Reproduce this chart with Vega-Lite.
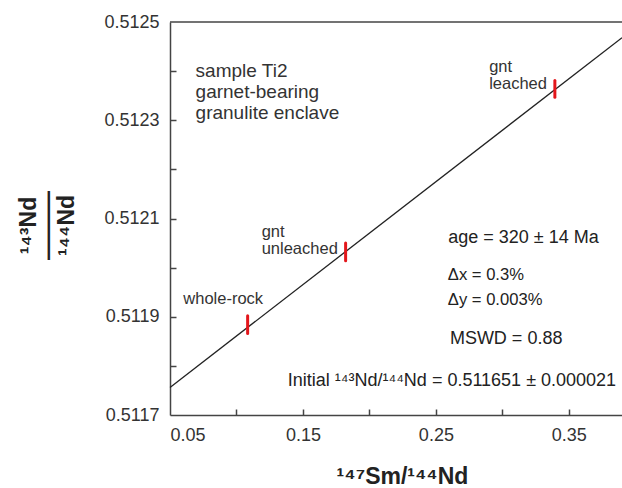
{
  "$schema": "https://vega.github.io/schema/vega-lite/v6.json",
  "width": 452,
  "height": 393,
  "autosize": {"type": "none"},
  "padding": {"left": 170, "top": 22, "right": 0, "bottom": 73},
  "background": "white",
  "resolve": {"axis": {"x": "independent", "y": "independent"}},
  "config": {
    "view": {"stroke": null},
    "font": "Liberation Sans",
    "axis": {
      "grid": false,
      "domainColor": "#444",
      "domainWidth": 1.5,
      "tickColor": "#444",
      "tickWidth": 1.5,
      "labelFont": "Liberation Sans",
      "labelFontSize": 18,
      "labelColor": "#333",
      "titleFont": "Liberation Sans",
      "titleFontWeight": "bold",
      "titleFontSize": 23,
      "titleColor": "#222"
    }
  },
  "datasets": {
    "isochron": [
      {"x": 0.05, "y": 0.511756},
      {"x": 0.39, "y": 0.512468}
    ],
    "samples": [
      {"sample": "whole-rock", "x": 0.1084, "y": 0.511884, "ylo": 0.511866, "yhi": 0.511902},
      {"sample": "gnt unleached", "x": 0.1821, "y": 0.512032, "ylo": 0.512014, "yhi": 0.51205},
      {"sample": "gnt leached", "x": 0.3395, "y": 0.512364, "ylo": 0.512347, "yhi": 0.512381}
    ],
    "labels": [
      {"group": "header", "x": 0.06925, "y": 0.512388, "text": "sample Ti2\ngarnet-bearing\ngranulite enclave"},
      {"group": "sample", "x": 0.29008, "y": 0.512399, "text": "gnt\nleached"},
      {"group": "sample", "x": 0.11895, "y": 0.512063, "text": "gnt\nunleached"},
      {"group": "sample", "x": 0.0600, "y": 0.511926, "text": "whole-rock"},
      {"group": "stats", "x": 0.25925, "y": 0.5120495, "text": "age = 320 ± 14 Ma"},
      {"group": "delta", "x": 0.2590, "y": 0.511975, "text": "Δx = 0.3%"},
      {"group": "delta", "x": 0.2590, "y": 0.511924, "text": "Δy = 0.003%"},
      {"group": "stats", "x": 0.26053, "y": 0.5118445, "text": "MSWD = 0.88"},
      {"group": "stats", "x": 0.1385, "y": 0.51176, "text": "Initial ¹⁴³Nd/¹⁴⁴Nd = 0.511651 ± 0.000021"}
    ]
  },
  "layer": [
    {
      "data": {"name": "isochron"},
      "mark": {"type": "line", "color": "#222", "strokeWidth": 1.3},
      "encoding": {
        "x": {
          "field": "x", "type": "quantitative",
          "scale": {"domain": [0.05, 0.39], "nice": false, "zero": false},
          "axis": {
            "orient": "bottom",
            "ticks": false,
            "values": [0.05, 0.15, 0.25, 0.35],
            "format": ".2f",
            "labelPadding": 11,
            "title": "¹⁴⁷Sm/¹⁴⁴Nd",
            "titleBaseline": "alphabetic",
            "titleX": 232,
            "titleY": 68
          }
        },
        "y": {
          "field": "y", "type": "quantitative",
          "scale": {"domain": [0.5117, 0.5125], "nice": false, "zero": false},
          "axis": {
            "orient": "left",
            "ticks": false,
            "values": [0.5117, 0.5119, 0.5121, 0.5123, 0.5125],
            "format": ".4f",
            "labelPadding": 11,
            "title": ["¹⁴³Nd", "———", "¹⁴⁴Nd"],
            "titleAngle": 270,
            "titleAlign": "center",
            "titleBaseline": "top",
            "titleLineHeight": 19,
            "titleX": -153,
            "titleY": 203
          }
        }
      }
    },
    {
      "data": {"values": [{}]},
      "mark": {"type": "rule", "color": "#444", "strokeWidth": 1.5},
      "encoding": {"y": {"datum": 0.5125, "type": "quantitative", "axis": null}}
    },
    {
      "data": {"name": "samples"},
      "mark": {"type": "rule", "color": "#e3161b", "strokeWidth": 3, "strokeCap": "round"},
      "encoding": {
        "x": {
          "field": "x", "type": "quantitative",
          "axis": {"orient": "top", "offset": -393, "domain": false, "labels": false, "ticks": true, "tickSize": 6, "title": null,
                   "values": [0.1, 0.15, 0.2, 0.25, 0.3, 0.35]}
        },
        "y": {
          "field": "ylo", "type": "quantitative",
          "axis": {"orient": "right", "offset": -452, "domain": false, "labels": false, "ticks": true, "tickSize": 6, "title": null,
                   "values": [0.5118, 0.5119, 0.512, 0.5121, 0.5122, 0.5123, 0.5124]}
        },
        "y2": {"field": "yhi"}
      }
    },
    {
      "data": {"name": "labels"},
      "transform": [{"filter": "datum.group == 'header'"}],
      "mark": {"type": "text", "align": "left", "baseline": "alphabetic", "fontSize": 19, "lineHeight": 21, "lineBreak": "\n", "color": "#333"},
      "encoding": {
        "x": {"field": "x", "type": "quantitative", "axis": null},
        "y": {"field": "y", "type": "quantitative", "axis": null},
        "text": {"field": "text"}
      }
    },
    {
      "data": {"name": "labels"},
      "transform": [{"filter": "datum.group == 'sample'"}],
      "mark": {"type": "text", "align": "left", "baseline": "alphabetic", "fontSize": 16.5, "lineHeight": 17, "lineBreak": "\n", "color": "#333"},
      "encoding": {
        "x": {"field": "x", "type": "quantitative", "axis": null},
        "y": {"field": "y", "type": "quantitative", "axis": null},
        "text": {"field": "text"}
      }
    },
    {
      "data": {"name": "labels"},
      "transform": [{"filter": "datum.group == 'stats'"}],
      "mark": {"type": "text", "align": "left", "baseline": "alphabetic", "fontSize": 18, "color": "#222"},
      "encoding": {
        "x": {"field": "x", "type": "quantitative", "axis": null},
        "y": {"field": "y", "type": "quantitative", "axis": null},
        "text": {"field": "text"}
      }
    },
    {
      "data": {"name": "labels"},
      "transform": [{"filter": "datum.group == 'delta'"}],
      "mark": {"type": "text", "align": "left", "baseline": "alphabetic", "fontSize": 16.6, "color": "#222"},
      "encoding": {
        "x": {"field": "x", "type": "quantitative", "axis": null},
        "y": {"field": "y", "type": "quantitative", "axis": null},
        "text": {"field": "text"}
      }
    }
  ]
}
